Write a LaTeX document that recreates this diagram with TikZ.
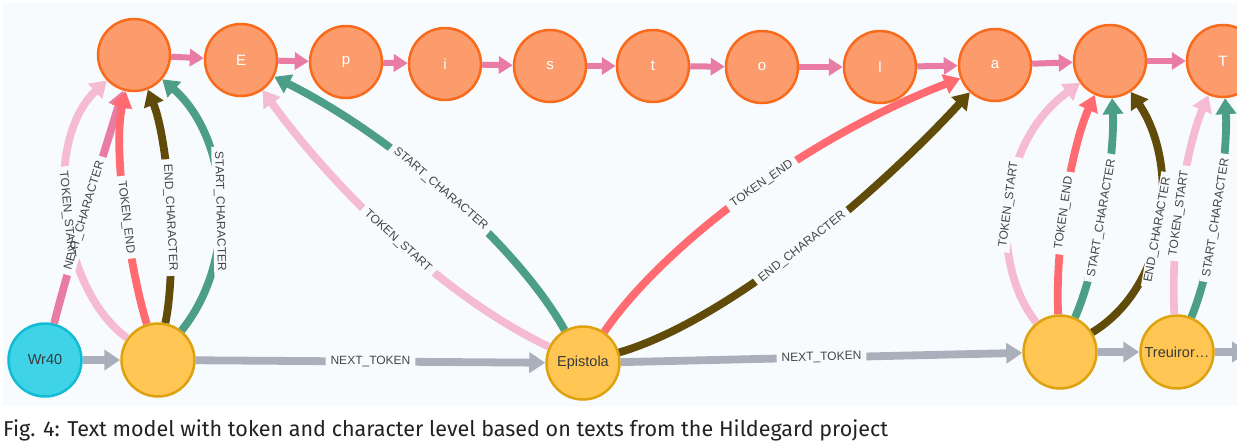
\documentclass[tikz,border=0pt]{standalone}
\usepackage{fontspec}
\setmainfont{Liberation Sans}
\newfontfamily\capfont{Fira Sans}
\usetikzlibrary{arrows.meta}
\definecolor{panelbg}{HTML}{F8FBFD}
\definecolor{charfill}{HTML}{FC9C6C}
\definecolor{chardraw}{HTML}{F86A1C}
\definecolor{tokfill}{HTML}{FFC653}
\definecolor{tokdraw}{HTML}{DDA20E}
\definecolor{txtfill}{HTML}{3ED3E6}
\definecolor{txtdraw}{HTML}{12BCD7}
\definecolor{chainc}{HTML}{E97CA3}
\definecolor{tstartc}{HTML}{F5BBD2}
\definecolor{tendc}{HTML}{FF6B70}
\definecolor{echarc}{HTML}{604B08}
\definecolor{scharc}{HTML}{4D9E87}
\definecolor{nextc}{HTML}{A9AFBB}
\definecolor{lblc}{HTML}{454545}
\definecolor{nodetxt}{HTML}{3A3A3A}
\definecolor{capc}{HTML}{222222}
\tikzset{
  charn/.style={circle, fill=charfill, draw=chardraw, line width=2.5pt, minimum size=72pt, inner sep=0pt, text=white, font=\fontsize{15}{16}\selectfont},
  tokn/.style={circle, fill=tokfill, draw=tokdraw, line width=2.5pt, minimum size=73pt, inner sep=0pt, text=nodetxt, font=\fontsize{14.5}{15}\selectfont},
  textn/.style={tokn, fill=txtfill, draw=txtdraw},
  rel/.style={line width=7.8pt, -{Triangle[length=16pt,width=20pt]}},
  chain/.style={line width=6pt, color=chainc, -{Triangle[length=14pt,width=17pt]}},
  nextt/.style={rel, color=nextc},
  nchar/.style={rel, color=chainc},
  tstart/.style={rel, color=tstartc},
  tend/.style={rel, color=tendc},
  echar/.style={rel, color=echarc},
  schar/.style={rel, color=scharc},
  lbl/.style={sloped, font=\fontsize{12}{13}\selectfont, text=lblc, inner xsep=5pt, inner ysep=1.5pt},
  mask/.style={lbl, fill=panelbg},
}
\newcommand\edgelist{%
\edgeitem{tstart}{t1}{60,290}{41,142}{c0}{.5}{TOKEN\_START}{a1}%
\edgeitem{nchar}{wr}{70,260}{105,150}{c0}{.46}{NEXT\_CHARACTER}{a2}%
\edgeitem{tend}{t1}{130,270}{112,150}{c0}{.47}{TOKEN\_END}{a3}%
\edgeitem{echar}{t1}{178,260}{168,140}{c0}{.44}{END\_CHARACTER}{a4}%
\edgeitem{schar}{t1}{242,255}{227,135}{c0}{.45}{START\_CHARACTER}{a5}%
\edgeitem{tstart}{t2}{430,290}{320,170}{cE}{.45}{TOKEN\_START}{b1}%
\edgeitem{schar}{t2}{520,250}{400,140}{cE}{.53}{START\_CHARACTER}{b2}%
\edgeitem{tend}{t2}{660,250}{800,140}{ca}{.55}{TOKEN\_END}{b3}%
\edgeitem{echar}{t2}{730,320}{880,190}{ca}{.5}{END\_CHARACTER}{b4}%
\edgeitem{tstart}{t3}{990,265}{995,145}{c9}{.5}{TOKEN\_START}{c1}%
\edgeitem{tend}{t3}{1055,250}{1070,150}{c9}{.45}{TOKEN\_END}{c2}%
\edgeitem{schar}{t3}{1100,260}{1115,150}{c9}{.45}{START\_CHARACTER}{c3}%
\edgeitem{echar}{t3}{1170,285}{1180,165}{c9}{.47}{END\_CHARACTER}{c4}%
\edgeitem{tstart}{t4}{1170,250}{1185,150}{cT}{.45}{TOKEN\_START}{d1}%
\edgeitem{schar}{t4}{1215,260}{1228,150}{cT}{.45}{START\_CHARACTER}{d2}%
}
\newcommand\edgeitem{}
\begin{document}
\begin{tikzpicture}[x=1pt,y=-1pt]
\clip (0,0) rectangle (1237,445);
\fill[white] (0,0) rectangle (1237,445);
\fill[panelbg] (3,3) rectangle (1237,406);
% character nodes
\node[charn] (c0) at (134,55) {};
\node[charn] (cE) at (241,60) {E};
\node[charn] (cp) at (346,62) {p};
\node[charn] (ci) at (445,64) {i};
\node[charn] (cs) at (550,66) {s};
\node[charn] (ct) at (653,66) {t};
\node[charn] (co) at (762,67) {o};
\node[charn] (cl) at (880,67) {l};
\node[charn] (ca) at (995,65) {a};
\node[charn] (c9) at (1110,61) {};
\node[charn] (cT) at (1223,61) {T};
% token nodes
\node[textn] (wr) at (45,360) {Wr40};
\node[tokn] (t1) at (158,360) {};
\node[tokn] (t2) at (583,363) {Epistola};
\node[tokn] (t3) at (1060,352) {};
\node[tokn] (t4) at (1177,352) {Treuiror…};
\coordinate (offR) at (1248,352);
% character chain
\draw[chain] (c0) -- (cE);
\draw[chain] (cE) -- (cp);
\draw[chain] (cp) -- (ci);
\draw[chain] (ci) -- (cs);
\draw[chain] (cs) -- (ct);
\draw[chain] (ct) -- (co);
\draw[chain] (co) -- (cl);
\draw[chain] (cl) -- (ca);
\draw[chain] (ca) -- (c9);
\draw[chain] (c9) -- (cT);
% token chain
\draw[nextt] (wr) -- (t1);
\draw[nextt] (t1) -- node[mask] (n1) {NEXT\_TOKEN} (t2);
\draw[nextt] (t2) -- node[mask] (n2) {NEXT\_TOKEN} (t3);
\draw[nextt] (t3) -- (t4);
\draw[nextt] (t4) -- (offR);
% token-character relations: lines with gaps
\def\edgeitem#1#2#3#4#5#6#7#8{\draw[#1] (#2) .. controls (#3) and (#4) .. (#5) node[mask,pos=#6] (m#8) {\phantom{#7}};}
\edgelist
% labels on top
\def\edgeitem#1#2#3#4#5#6#7#8{\path (#2) .. controls (#3) and (#4) .. (#5) node[lbl,pos=#6] (#8) {#7};}
\edgelist
% caption
\node[anchor=base west, inner sep=0pt, text=capc] (cap) at (3,436) {\resizebox{885pt}{!}{\capfont Fig. 4: Text model with token and character level based on texts from the Hildegard project}};
\end{tikzpicture}
\end{document}
